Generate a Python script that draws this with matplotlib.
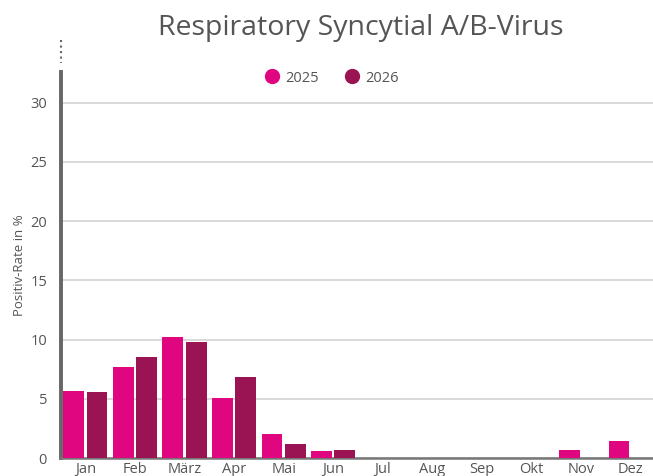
import numpy as np
import matplotlib.pyplot as plt
from matplotlib.lines import Line2D

months = ['Jan', 'Feb', 'März', 'Apr', 'Mai', 'Jun', 'Jul', 'Aug', 'Sep', 'Okt', 'Nov', 'Dez']
rate_2025 = [5.7, 7.7, 10.2, 5.1, 2.0, 0.55, 0, 0, 0, 0, 0.65, 1.4]
rate_2026 = [5.6, 8.5, 9.8, 6.8, 1.15, 0.65, np.nan, np.nan, np.nan, np.nan, np.nan, np.nan]
y_ticks = [0, 5, 10, 15, 20, 25, 30]

col_2025 = '#e0067f'
col_2026 = '#9a1453'
txt = '#555555'

plt.rcParams['font.family'] = ['Open Sans', 'DejaVu Sans']

fig = plt.figure(figsize=(6.53, 4.76), dpi=100)
ax = fig.add_axes([61 / 653, 18 / 476, 592 / 653, 386 / 476])

x = np.arange(len(months))
w = 0.42
ax.bar(x - 0.235, rate_2025, width=w, color=col_2025, zorder=3)
ax.bar(x + 0.235, rate_2026, width=w, color=col_2026, zorder=3)

ax.set_xlim(-0.49, 11.45)
ax.set_ylim(0, 32.6)
ax.set_xticks(x)
ax.set_xticklabels(months, fontsize=10.5, color=txt)
ax.set_yticks(y_ticks)
ax.set_yticklabels([str(v) for v in y_ticks], fontsize=10.5, color=txt)
ax.tick_params(length=0, pad=3)
ax.tick_params(axis='y', pad=10)
ax.grid(axis='y', color='#d6d6d6', linewidth=1.3, zorder=0)
for s in ['top', 'right']:
    ax.spines[s].set_visible(False)
ax.spines['left'].set_color('#666666')
ax.spines['left'].set_linewidth(2.8)
ax.spines['bottom'].set_color('#777777')
ax.spines['bottom'].set_linewidth(1.8)
ax.set_ylabel('Positiv-Rate in %', fontsize=9.5, color=txt, labelpad=3)

fig.add_artist(Line2D([61 / 653, 61 / 653], [1 - 40 / 476, 1 - 63 / 476], transform=fig.transFigure,
                      color='#666666', linewidth=1.5, linestyle=':'))

fig.text(361 / 653, 1 - 28 / 476, 'Respiratory Syncytial A/B-Virus', ha='center', va='center',
         fontsize=20.5, color=txt)

handles = [Line2D([], [], marker='o', linestyle='', markersize=10, color=col_2025),
           Line2D([], [], marker='o', linestyle='', markersize=10, color=col_2026)]
fig.legend(handles, ['2025', '2026'], loc='center', bbox_to_anchor=(332 / 653, 1 - 78 / 476), ncol=2,
           frameon=False, fontsize=10.5, labelcolor=txt, handletextpad=0.4, columnspacing=1.8,
           handlelength=1.0)

fig.savefig('out.png', dpi=100)
